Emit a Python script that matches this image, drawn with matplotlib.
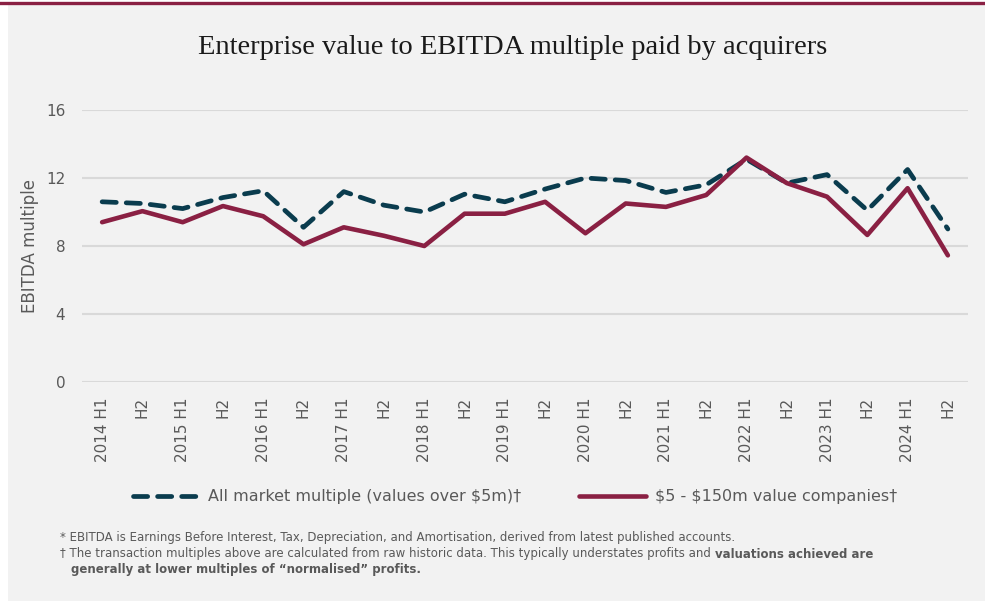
import matplotlib.pyplot as plt
import matplotlib.patches as mpatches
from matplotlib.lines import Line2D

# periods on the x axis
periods = ['2014 H1', 'H2', '2015 H1', 'H2', '2016 H1', 'H2', '2017 H1', 'H2',
           '2018 H1', 'H2', '2019 H1', 'H2', '2020 H1', 'H2', '2021 H1', 'H2',
           '2022 H1', 'H2', '2023 H1', 'H2', '2024 H1', 'H2']

# All market multiple (values over $5m)
all_market = [10.6, 10.5, 10.2, 10.85, 11.25, 9.1, 11.2, 10.4, 10.0, 11.05, 10.6,
              11.35, 12.0, 11.85, 11.15, 11.6, 13.1, 11.7, 12.2, 10.1, 12.5, 9.0]

# $5 - $150m value companies
small_cos = [9.4, 10.05, 9.4, 10.35, 9.75, 8.1, 9.1, 8.6, 8.0, 9.9, 9.9,
             10.6, 8.75, 10.5, 10.3, 11.0, 13.2, 11.7, 10.9, 8.65, 11.4, 7.45]

yticks = [0, 4, 8, 12, 16]

teal = '#0a3c4e'
maroon = '#8a2043'
grey = '#595959'
bg = '#f2f2f2'

W, H = 985, 601
fig = plt.figure(figsize=(W / 100, H / 100), dpi=100, facecolor='white')

# background panel and top rule
fig.patches.append(mpatches.Rectangle((8 / W, 0), 1, 1 - 4 / H, transform=fig.transFigure,
                                      facecolor=bg, edgecolor='none', zorder=-5))
fig.add_artist(Line2D([0, 1], [1 - 2.5 / H, 1 - 2.5 / H], transform=fig.transFigure,
                      color=maroon, lw=2.4))

ax = fig.add_axes([82 / W, 1 - 382 / H, (968 - 82) / W, (382 - 110) / H])
ax.set_facecolor('none')

x = list(range(len(periods)))
ax.plot(x, all_market, color=teal, lw=3.4, linestyle=(0, (3.0, 2.1)),
        dash_capstyle='round', solid_capstyle='round', zorder=3,
        label='All market multiple (values over $5m)†')
ax.plot(x, small_cos, color=maroon, lw=3.3, solid_capstyle='round',
        solid_joinstyle='round', zorder=4, label='\\$5 - \\$150m value companies†')

ax.set_xlim(-0.5, len(periods) - 0.5)
ax.set_ylim(0, 16)
ax.set_yticks(yticks)
ax.set_xticks(x)
ax.set_xticklabels(periods, rotation=90)
ax.grid(axis='y', color='#d9d9d9', lw=1.5)
ax.set_axisbelow(True)
for s in ax.spines.values():
    s.set_visible(False)
ax.tick_params(axis='both', length=0, labelsize=11, labelcolor=grey)
ax.tick_params(axis='x', pad=11)
ax.tick_params(axis='y', pad=12)
ax.set_ylabel('EBITDA multiple', fontsize=12, color=grey, labelpad=5)

fig.text(513 / W, 1 - 47 / H, 'Enterprise value to EBITDA multiple paid by acquirers',
         ha='center', va='center', fontsize=20.5, family='Liberation Serif', color='#1a1a1a')

fig.legend(loc='center', bbox_to_anchor=(515 / W, 1 - 497 / H), ncol=2, frameon=False,
           fontsize=11.5, labelcolor=grey, handlelength=4.2, handletextpad=0.55,
           columnspacing=3.6)

# footnotes
fs = 8.5
fig.text(60 / W, 1 - 538 / H,
         '* EBITDA is Earnings Before Interest, Tax, Depreciation, and Amortisation, derived from latest published accounts.',
         fontsize=fs, color=grey, va='center')
t2 = fig.text(60 / W, 1 - 554 / H,
              '† The transaction multiples above are calculated from raw historic data. This typically understates profits and ',
              fontsize=fs, color=grey, va='center')
fig.canvas.draw()
bb = t2.get_window_extent(renderer=fig.canvas.get_renderer())
fig.text(bb.x1 / W, 1 - 554 / H, 'valuations achieved are',
         fontsize=fs, color=grey, va='center', fontweight='bold')
fig.text(71 / W, 1 - 570 / H, 'generally at lower multiples of \u201cnormalised\u201d profits.',
         fontsize=fs, color=grey, va='center', fontweight='bold')

fig.savefig('out.png', dpi=100, facecolor='white')
